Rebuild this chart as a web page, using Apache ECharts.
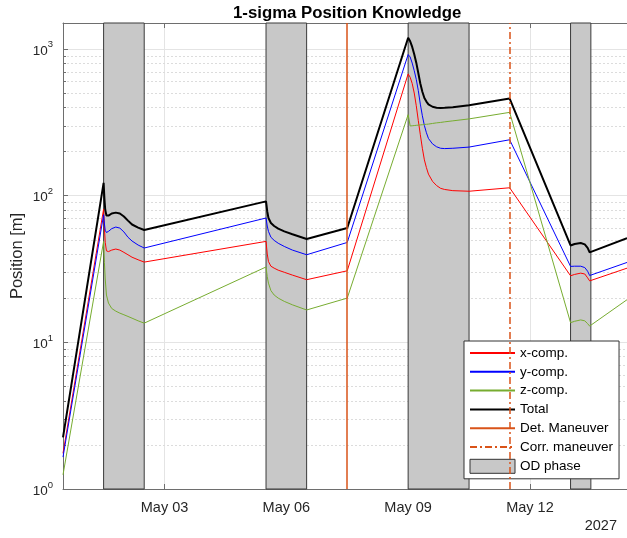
<!DOCTYPE html>
<html>
<head>
<meta charset="utf-8">
<script src="https://cdn.jsdelivr.net/npm/echarts@6/dist/echarts.min.js"></script>
<style>html,body{margin:0;padding:0;background:#fff}#chart{width:627px;height:538px}</style>
</head>
<body>
<div id="chart"></div>
<script>
// time in days of May 2027 (0.5 = Apr 30 12:00)
const days = [0.5,
  1.5, 1.52, 1.54, 1.57, 1.62, 1.7, 1.8, 1.9, 2.0, 2.1, 2.2, 2.35, 2.5,
  5.5, 5.53, 5.56, 5.62, 5.7, 5.8, 5.95, 6.15, 6.5,
  7.5,
  9.0, 9.05, 9.1, 9.15, 9.2, 9.25, 9.3, 9.35, 9.4, 9.45, 9.5, 9.6, 9.7, 9.8, 9.9, 10.1, 10.5,
  11.5,
  13.0, 13.1, 13.25, 13.35, 13.42, 13.47, 13.5,
  14.39];
const xComp = [1.75,
  81, 60, 48, 42, 41.5, 42.5, 43.2, 42.5, 41, 39.5, 38, 36.5, 35.2,
  48.7, 40, 35.5, 33, 32, 31, 30, 28.7, 26.7,
  30.7,
  675, 640, 580, 500, 410, 325, 260, 210, 175, 155, 140, 125, 117, 112, 110, 108, 107,
  113,
  28.4, 29.0, 29.6, 29.2, 27.5, 26.2, 25.6,
  32];
const yComp = [1.65,
  74, 64, 58, 56, 57, 59.5, 61, 60, 56.5, 52, 49, 46, 43.9,
  70.3, 62, 57, 52, 49.5, 47.3, 45, 42.5, 39.5,
  47.9,
  914, 880, 800, 710, 620, 520, 420, 350, 300, 268, 245, 225, 215, 210, 209, 210, 214,
  240,
  32.9, 33.0, 33.0, 32.3, 30.5, 28.5, 27.7,
  35];
const zComp = [1.25,
  48.7, 35, 27, 21, 18.5, 17, 16.3, 15.8, 15.4, 15, 14.6, 14, 13.5,
  32.6, 28, 25.3, 22.5, 21, 20, 19, 18, 16.6,
  20.0,
  356, 298, 299, 300, 301, 302, 303, 304, 305, 306, 307, 310, 313, 315, 318, 323, 333,
  369,
  13.6, 13.9, 14.2, 14.0, 13.4, 12.9, 12.8,
  19.5];
const total = [2.25,
  122, 95, 80, 73, 73, 75.5, 76.5, 75.5, 72, 67.5, 63.5, 60.5, 58.2,
  91.3, 78, 70.3, 65, 62, 59.5, 57, 54.5, 50.6,
  60.1,
  1189, 1125, 1030, 920, 805, 685, 580, 510, 462, 437, 418, 403, 397, 395, 396, 400, 412,
  458,
  45.7, 46.8, 47.5, 46.5, 44, 41, 39.9,
  51.3];

const odStart = [1.5, 5.5, 9.0, 13.0];
const odEnd = [2.5, 6.5, 10.5, 13.5];
const detManeuver = [7.5];
const corrManeuver = [11.5];

const dateTicks = [3, 6, 9, 12];
const dateLabels = ['May 03', 'May 06', 'May 09', 'May 12'];
const minorTicks = [2, 3, 4, 5, 6, 7, 8, 9, 20, 30, 40, 50, 60, 70, 80, 90, 200, 300, 400, 500, 600, 700, 800, 900];

const X_MIN = 0.5, X_MAX = 14.39;
const FONT = 'Liberation Sans';
const AXIS_COLOR = '#6e6e6e';
const MANEUVER_COLOR = '#D95319';

const chart = echarts.init(document.getElementById('chart'));

function pairs(vals) { return days.map((d, i) => [d, vals[i]]); }

function renderMinor(params, api) {
  const p = api.coord([api.value(0), api.value(1)]);
  const cs = params.coordSys;
  const y = Math.round(p[1]) + 0.5;
  return {
    type: 'group',
    children: [
      { type: 'line', shape: { x1: cs.x, y1: y, x2: cs.x + cs.width, y2: y },
        style: { stroke: '#dcdcdc', lineWidth: 1, lineDash: [2, 2] } },
      { type: 'line', shape: { x1: cs.x, y1: y, x2: cs.x + 3, y2: y },
        style: { stroke: AXIS_COLOR, lineWidth: 1 } }
    ]
  };
}

const option = {
  animation: false,
  textStyle: { fontFamily: FONT },
  title: {
    text: '1-sigma Position Knowledge',
    left: 228, top: 0,
    textStyle: { fontSize: 16.8, fontWeight: 'bold', color: '#000', fontFamily: FONT }
  },
  grid: { left: 63, right: 0, top: 23, bottom: 49, outerBoundsMode: 'none', containLabel: false },
  legend: {
    orient: 'vertical', left: 464, top: 341,
    padding: [5, 6, 5, 5], itemGap: 4.8, itemWidth: 45, itemHeight: 14,
    backgroundColor: '#fff', borderColor: '#333', borderWidth: 1, borderRadius: 0,
    itemStyle: { opacity: 0 },
    textStyle: { fontSize: 13.5, color: '#000', fontFamily: FONT },
    data: [
      { name: 'x-comp.' }, { name: 'y-comp.' }, { name: 'z-comp.' }, { name: 'Total' },
      { name: 'Det. Maneuver' }, { name: 'Corr. maneuver' },
      { name: 'OD phase', icon: 'rect', itemStyle: { color: '#c8c8c8', borderColor: '#333', borderWidth: 1, opacity: 1 } }
    ]
  },
  graphic: [{
    type: 'text', right: 10, top: 518,
    style: { text: '2027', fontSize: 14.5, fill: '#262626', fontFamily: FONT }
  }],
  xAxis: [{
    type: 'value', min: X_MIN, max: X_MAX,
    axisLine: { show: true, lineStyle: { color: AXIS_COLOR } },
    axisTick: { show: true, inside: true, length: 5, customValues: dateTicks, lineStyle: { color: AXIS_COLOR } },
    axisLabel: {
      customValues: dateTicks, margin: 11, fontSize: 14.5, color: '#262626',
      formatter: v => dateLabels[dateTicks.indexOf(v)]
    },
    splitLine: { show: true, lineStyle: { color: '#e4e4e4' } }
  }, {
    type: 'value', min: X_MIN, max: X_MAX, position: 'top',
    axisLine: { show: true, lineStyle: { color: AXIS_COLOR } },
    axisTick: { show: true, inside: true, length: 5, customValues: dateTicks, lineStyle: { color: AXIS_COLOR } },
    axisLabel: { show: false },
    splitLine: { show: false }
  }],
  yAxis: {
    type: 'log', logBase: 10, min: 1, max: 1500,
    name: 'Position [m]', nameLocation: 'middle', nameGap: 37, nameMoveOverlap: false,
    nameTextStyle: { fontSize: 16.5, color: '#262626', fontFamily: FONT },
    axisLine: { show: true, lineStyle: { color: AXIS_COLOR } },
    axisTick: { show: true, inside: true, length: 5, lineStyle: { color: AXIS_COLOR } },
    axisLabel: {
      margin: 10,
      formatter: v => {
        const e = Math.log10(v);
        if (Math.abs(e - Math.round(e)) > 1e-6) return '';
        return '{b|10}{s|' + Math.round(e) + '}';
      },
      rich: {
        b: { fontSize: 13.5, color: '#262626', fontFamily: FONT, lineHeight: 18, verticalAlign: 'bottom' },
        s: { fontSize: 9.5, color: '#262626', fontFamily: FONT, lineHeight: 18, verticalAlign: 'top' }
      }
    },
    splitLine: { show: true, lineStyle: { color: '#e4e4e4' } }
  },
  series: [
    {
      type: 'custom', name: 'minor', z: 0, silent: true,
      renderItem: renderMinor,
      data: minorTicks.map(v => [X_MIN, v])
    },
    {
      name: 'OD phase', type: 'line', data: [], symbol: 'none',
      color: '#c8c8c8',
      markArea: {
        silent: true, z: 1,
        itemStyle: { color: '#c8c8c8', opacity: 1, borderColor: '#3a3a3a', borderWidth: 1 },
        label: { show: false },
        data: odStart.map((s, i) => [{ xAxis: s }, { xAxis: odEnd[i] }])
      }
    },
    { name: 'x-comp.', type: 'line', data: pairs(xComp), symbol: 'none', color: '#ff0000', lineStyle: { width: 1 } },
    { name: 'y-comp.', type: 'line', data: pairs(yComp), symbol: 'none', color: '#0000ff', lineStyle: { width: 1 } },
    { name: 'z-comp.', type: 'line', data: pairs(zComp), symbol: 'none', color: '#77ac30', lineStyle: { width: 1 } },
    { name: 'Total', type: 'line', data: pairs(total), symbol: 'none', color: '#000', lineStyle: { width: 2 } },
    {
      name: 'Det. Maneuver', type: 'line', data: [], symbol: 'none', color: MANEUVER_COLOR,
      lineStyle: { width: 1.5 },
      markLine: {
        silent: true, symbol: 'none', label: { show: false },
        lineStyle: { color: MANEUVER_COLOR, width: 1.5, type: 'solid' },
        data: detManeuver.map(d => ({ xAxis: d }))
      }
    },
    {
      name: 'Corr. maneuver', type: 'line', data: [], symbol: 'none', color: MANEUVER_COLOR,
      lineStyle: { width: 1.5, type: [7, 3, 2, 3] },
      markLine: {
        silent: true, symbol: 'none', label: { show: false },
        lineStyle: { color: MANEUVER_COLOR, width: 1.5, type: [7, 3, 2, 3] },
        data: corrManeuver.map(d => ({ xAxis: d }))
      }
    }
  ]
};
chart.setOption(option);
</script>
</body>
</html>
